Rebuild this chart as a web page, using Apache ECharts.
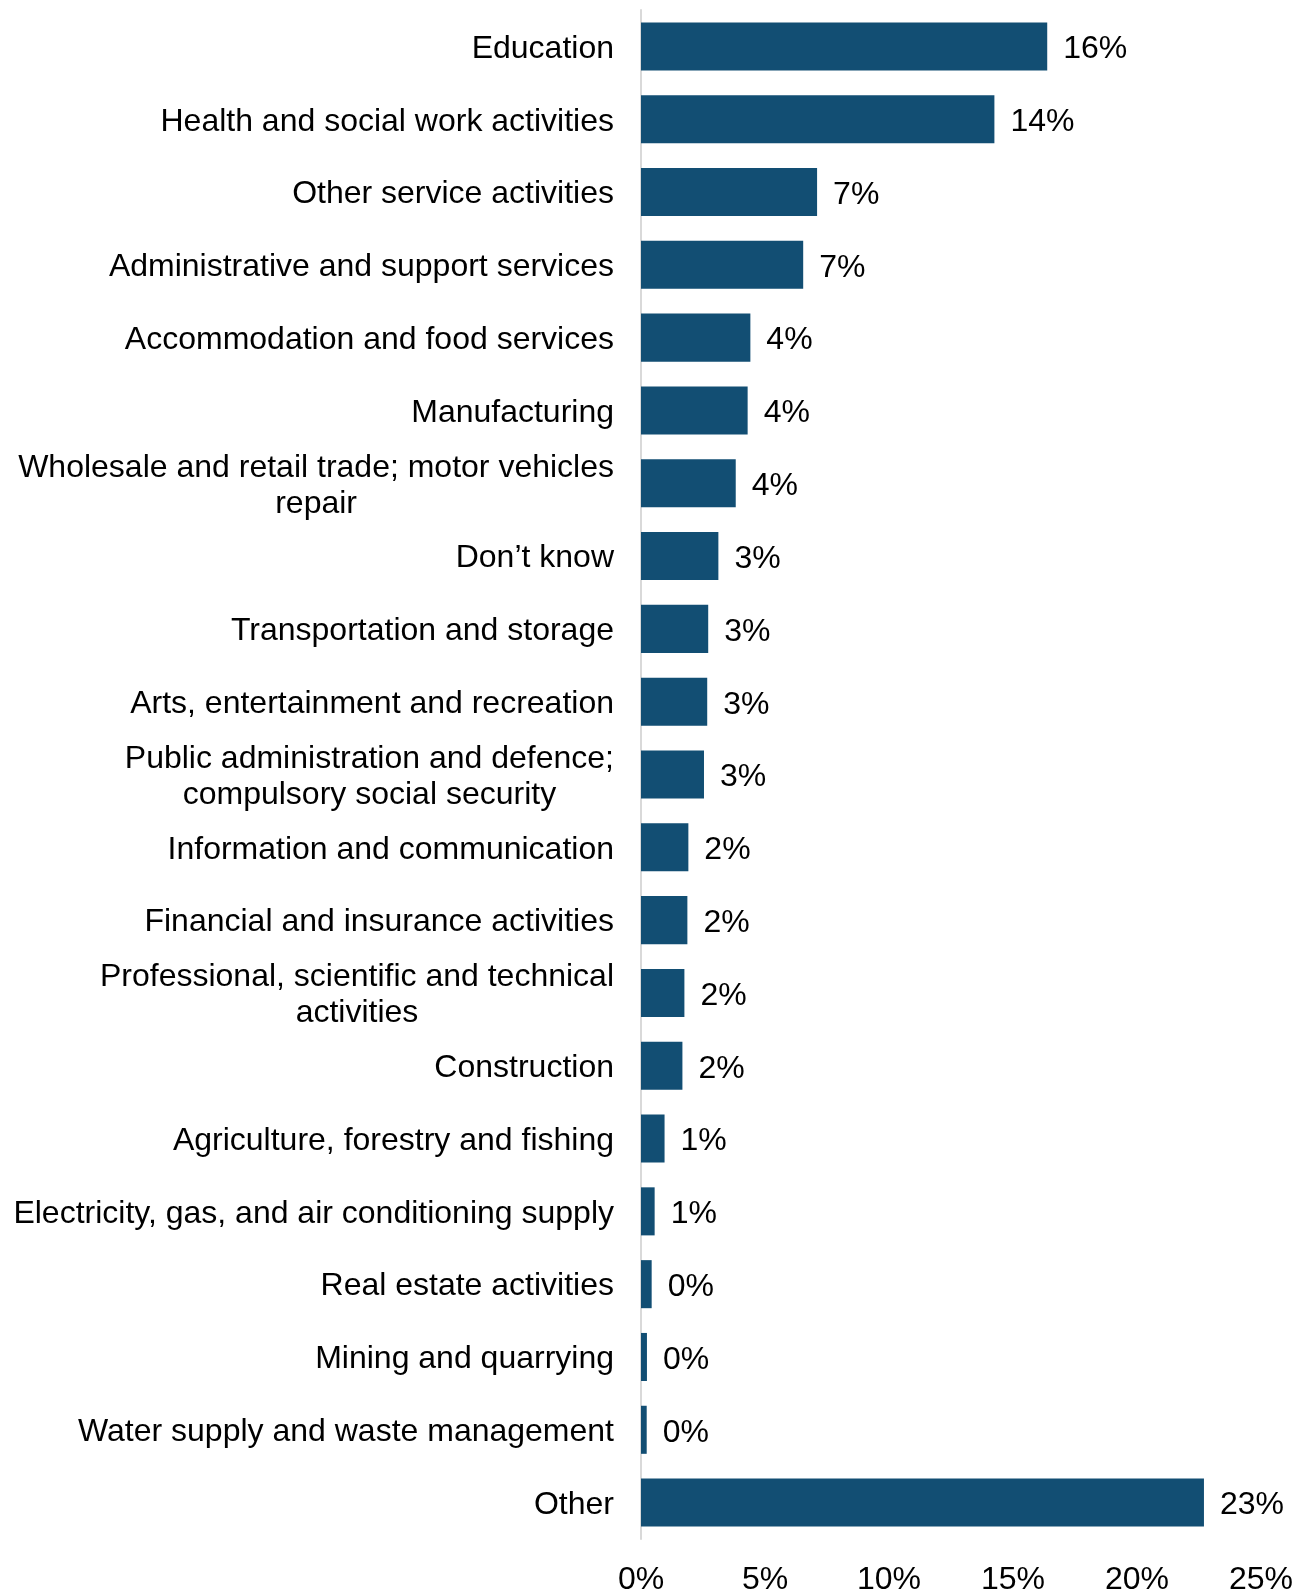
<!DOCTYPE html>
<html>
<head>
<meta charset="utf-8">
<title>Share by industry sector</title>
<script src="https://cdn.jsdelivr.net/npm/echarts@6/dist/echarts.min.js"></script>
<style>
  html, body { margin: 0; padding: 0; background: #ffffff; }
  #chart { width: 1307px; height: 1592px; }
</style>
</head>
<body>
<div id="chart"></div>
<script>
// Industry sectors, top to bottom
const categories = [
  'Education',
  'Health and social work activities',
  'Other service activities',
  'Administrative and support services',
  'Accommodation and food services',
  'Manufacturing',
  'Wholesale and retail trade; motor vehicles\nrepair',
  'Don\u2019t know',
  'Transportation and storage',
  'Arts, entertainment and recreation',
  'Public administration and defence;\ncompulsory social security',
  'Information and communication',
  'Financial and insurance activities',
  'Professional, scientific and technical\nactivities',
  'Construction',
  'Agriculture, forestry and fishing',
  'Electricity, gas, and air conditioning supply',
  'Real estate activities',
  'Mining and quarrying',
  'Water supply and waste management',
  'Other'
];

// Share of respondents (%)
const shares = [
  16.38, 14.25, 7.10, 6.54, 4.41, 4.30, 3.82, 3.12, 2.71, 2.67,
  2.54, 1.91, 1.87, 1.75, 1.67, 0.95, 0.55, 0.43, 0.24, 0.23, 22.7
];

// Percentage axis ticks
const tickValues = [0, 5, 10, 15, 20, 25];

const FONT = '"Liberation Sans", Arial, Helvetica, sans-serif';
const BAR_COLOR = '#124e73';

const chart = echarts.init(document.getElementById('chart'), null, { renderer: 'canvas' });

chart.setOption({
  backgroundColor: '#ffffff',
  animation: false,
  grid: {
    left: 641, right: 46, top: 10, bottom: 53,
    containLabel: false,
    outerBoundsMode: 'none'
  },
  xAxis: {
    type: 'value',
    min: tickValues[0],
    max: tickValues[tickValues.length - 1],
    interval: tickValues[1] - tickValues[0],
    axisLine: { show: false },
    axisTick: { show: false },
    splitLine: { show: false },
    axisLabel: {
      margin: 25,
      fontFamily: FONT,
      fontSize: 32,
      color: '#000000',
      formatter: v => v + '%'
    }
  },
  yAxis: {
    type: 'category',
    inverse: true,
    data: categories,
    axisLine: { show: true, lineStyle: { color: '#d9d9d9', width: 2 } },
    axisTick: { show: false },
    axisLabel: {
      margin: 27,
      align: 'right',
      padding: [5, 0, 0, 0],
      fontFamily: FONT,
      fontSize: 32,
      color: '#000000',
      formatter: v => v.split('\n').map(s => '{c|' + s + '}').join('\n'),
      rich: {
        c: {
          align: 'center',
          fontFamily: FONT,
          fontSize: 32,
          lineHeight: 36,
          color: '#000000'
        }
      }
    }
  },
  series: [{
    type: 'bar',
    data: shares,
    barCategoryGap: '34%',
    itemStyle: { color: BAR_COLOR },
    label: {
      show: true,
      position: 'right',
      distance: 16,
      offset: [0, 3],
      fontFamily: FONT,
      fontSize: 32,
      color: '#000000',
      formatter: p => Math.round(p.value) + '%'
    }
  }]
});
</script>
</body>
</html>
